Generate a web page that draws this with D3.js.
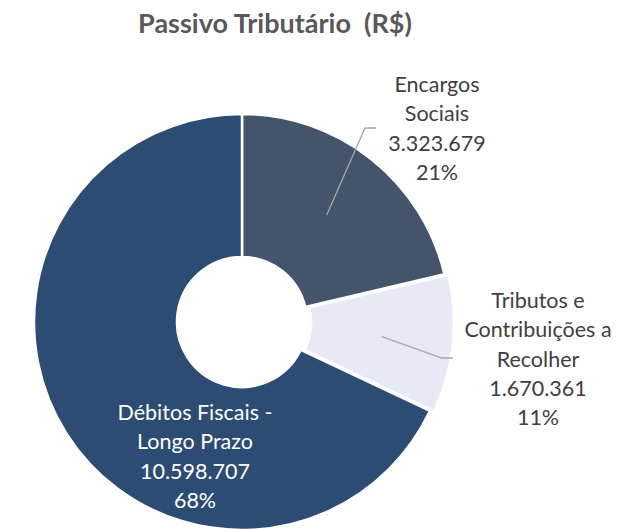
<!DOCTYPE html>
<html>
<head>
<meta charset="utf-8">
<script src="https://cdn.jsdelivr.net/npm/d3@7"></script>
<style>
  body { margin: 0; background: #fff; }
</style>
</head>
<body>
<svg id="chart" width="621" height="529"></svg>
<script>
// data
var categories = ["Encargos Sociais", "Tributos e Contribuições a Recolher", "Débitos Fiscais - Longo Prazo"];
var values = [3323679, 1670361, 10598707];
var labelLines = [["Encargos", "Sociais"], ["Tributos e", "Contribuições a", "Recolher"], ["Débitos Fiscais -", "Longo Prazo"]];
var colors = ["#44546a", "#e8e9f4", "#2c4c74"];

var svg = d3.select("#chart");
var font = "Lato, 'Open Sans', sans-serif";

var cx = 242, cy = 322, outerR = 208, innerR = 65;

svg.append("text")
    .attr("x", 275)
    .attr("y", 33)
    .attr("text-anchor", "middle")
    .style("white-space", "pre")
    .style("font-family", font)
    .style("font-weight", "bold")
    .style("font-size", "27px")
    .style("fill", "#595959")
    .text("Passivo Tributário  (R$)");

var pie = d3.pie().sort(null).value(function(d) { return d; });
var arcs = pie(values);
var arc = d3.arc().innerRadius(innerR).outerRadius(outerR);
var total = d3.sum(values);

var fmt = function(v) { return d3.format(",")(v).replace(/,/g, "."); };
var explode = [0, 4, 0];

var g = svg.append("g").attr("transform", "translate(" + cx + "," + cy + ")");

g.selectAll("path")
    .data(arcs)
    .enter()
    .append("path")
    .attr("d", arc)
    .attr("transform", function(d, i) {
      var a = (d.startAngle + d.endAngle) / 2;
      return "translate(" + (Math.sin(a) * explode[i]) + "," + (-Math.cos(a) * explode[i]) + ")";
    })
    .style("fill", function(d, i) { return colors[i]; })
    .style("stroke", "#fff")
    .style("stroke-width", 2.5);

// leader lines (elbow + end, relative to centre)
var leaders = [[[123, -194], [134, -194]], [[200, 36], [211, 36]], null];
arcs.forEach(function(d, i) {
  if (!leaders[i]) return;
  var a = (d.startAngle + d.endAngle) / 2;
  var c = arc.centroid(d);
  c = [c[0] + Math.sin(a) * explode[i], c[1] - Math.cos(a) * explode[i]];
  g.append("polyline")
      .attr("points", [c, leaders[i][0], leaders[i][1]].map(function(p) { return p.join(","); }).join(" "))
      .style("fill", "none")
      .style("stroke", "#a6a6a6")
      .style("stroke-width", 1.3);
});

// labels
var labelPos = [[437, 92], [538, 308], [195, 420]];
var labelColor = ["#404040", "#404040", "#ffffff"];
var lineH = 29.3;

arcs.forEach(function(d, i) {
  var lines = labelLines[i].concat([fmt(values[i]), Math.round(values[i] / total * 100) + "%"]);
  var t = svg.append("text")
      .attr("text-anchor", "middle")
      .style("font-family", font)
      .style("font-size", "21.5px")
      .style("fill", labelColor[i]);
  lines.forEach(function(s, k) {
    t.append("tspan")
        .attr("x", labelPos[i][0])
        .attr("y", labelPos[i][1] + k * lineH)
        .text(s);
  });
});
</script>
</body>
</html>
